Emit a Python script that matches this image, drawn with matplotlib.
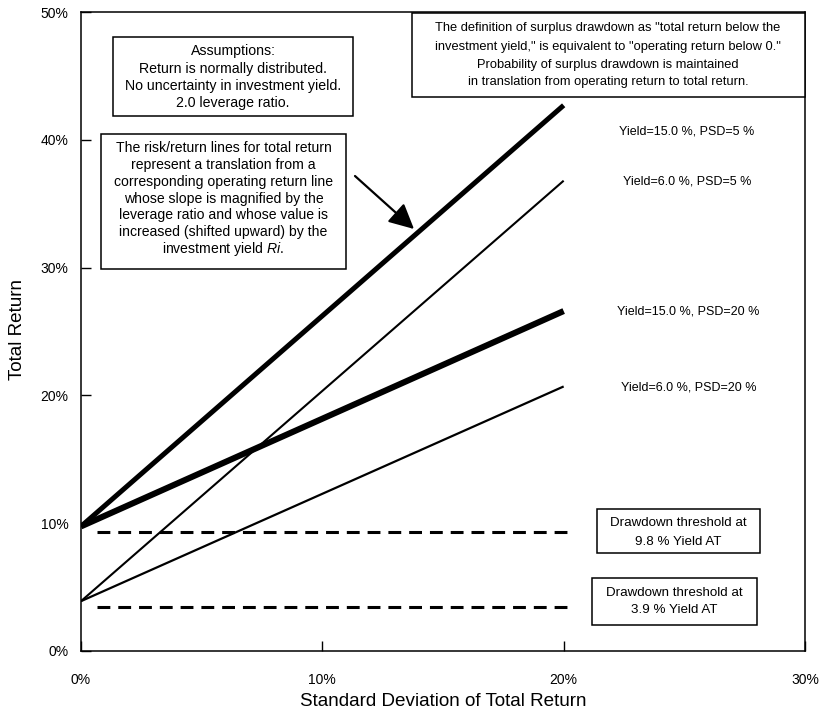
import matplotlib
matplotlib.use("Agg")
import matplotlib.pyplot as plt
from matplotlib.patches import Rectangle

# ---------------- data ----------------
sd_range = [0.0, 20.0]                       # standard deviation of total return (%)
series_labels = ["Yield=15.0 %, PSD=5 %", "Yield=6.0 %, PSD=5 %",
                 "Yield=15.0 %, PSD=20 %", "Yield=6.0 %, PSD=20 %"]
return_at_zero = [9.75, 3.9, 9.75, 3.9]       # total return at SD = 0 (%)
return_at_20 = [42.7, 36.8, 26.6, 20.7]       # total return at SD = 20 % (%)
series_widths = [3.6, 1.5, 4.4, 1.6]

threshold_levels = [9.3, 3.45]                # dashed drawdown thresholds (%)
threshold_range = [0.65, 20.4]
threshold_texts = ["Drawdown threshold at\n9.8 % Yield AT",
                   "Drawdown threshold at\n3.9 % Yield AT"]

x_ticks = [0, 10, 20, 30]
y_ticks = [0, 10, 20, 30, 40, 50]

# ---------------- style ----------------
plt.rcParams['font.family'] = ['Liberation Sans', 'DejaVu Sans']
plt.rcParams['mathtext.fontset'] = 'custom'
plt.rcParams['mathtext.rm'] = 'Liberation Sans'
plt.rcParams['mathtext.it'] = 'Liberation Sans:italic'

W, H = 821, 716
fig = plt.figure(figsize=(W / 100, H / 100), dpi=100)
fig.patch.set_facecolor('white')

def fx(px):
    return px / W

def fy(py):
    return 1 - py / H

L, R, T, B = 81, 805, 12, 651
ax = fig.add_axes([fx(L), fy(B), fx(R) - fx(L), fy(T) - fy(B)])
ax.set_xlim(0, 30)
ax.set_ylim(0, 50)

for lbl, y0, y1, lw in zip(series_labels, return_at_zero, return_at_20, series_widths):
    ax.plot(sd_range, [y0, y1], color='black', lw=lw, solid_capstyle='butt', zorder=3)

for lvl in threshold_levels:
    ax.plot(threshold_range, [lvl, lvl], color='black', lw=2.2,
            linestyle=(0, (4.2, 2.6)), zorder=3)

ax.set_xticks(x_ticks)
ax.set_yticks(y_ticks)
ax.set_xticklabels([f"{v}%" for v in x_ticks], fontsize=10)
ax.set_yticklabels([f"{v}%" for v in y_ticks], fontsize=10)
ax.tick_params(axis='both', direction='in', length=7.5, width=1.0, color='black')
ax.tick_params(axis='x', pad=16)
ax.tick_params(axis='y', pad=9)
for s in ax.spines.values():
    s.set_linewidth(1.1)
    s.set_color('black')

fig.text(fx(443), fy(702), "Standard Deviation of Total Return", fontsize=13.6,
         ha='center', va='center')
fig.text(fx(17), fy(330), "Total Return", fontsize=13.6, rotation=90,
         ha='center', va='center')

# ---------------- series labels ----------------
label_pos = [(687, 131), (687, 182), (688, 312), (689, 387)]
for lbl, (px, py) in zip(series_labels, label_pos):
    fig.text(fx(px), fy(py), lbl, fontsize=9.0, ha='center', va='center')

# ---------------- boxes ----------------
def box(x0, y0, x1, y1, lines, cx, ys, fs=8.8):
    fig.patches.append(Rectangle((fx(x0), fy(y1)), fx(x1) - fx(x0), fy(y0) - fy(y1),
                                 transform=fig.transFigure, facecolor='white',
                                 edgecolor='black', lw=1.1, zorder=5))
    for t, y in zip(lines, ys):
        fig.text(fx(cx), fy(y), t, fontsize=fs, ha='center', va='center', zorder=6)

box(113, 37, 353, 116,
    ["Assumptions:", "Return is normally distributed.",
     "No uncertainty in investment yield.", "2.0 leverage ratio."],
    233, [51, 68.5, 86, 103], fs=10.2)

box(101, 134, 346, 269,
    ["The risk/return lines for total return", "represent a translation from a",
     "corresponding operating return line", "whose slope is magnified by the",
     "leverage ratio and whose value is", "increased (shifted upward) by the",
     r"investment yield $\it{Ri}$."],
    223.5, [148, 165, 182, 198.5, 215, 232, 249], fs=10.1)

box(412, 13, 805, 97,
    ['The definition of surplus drawdown as "total return below the',
     'investment yield," is equivalent to "operating return below 0."',
     "Probability of surplus drawdown is maintained",
     "in translation from operating return to total return."],
    608, [28, 47, 65, 82], fs=9.3)

tb_rects = [(597, 509, 760, 553), (592, 578, 757, 625)]
tb_ys = [[523, 542], [593, 610]]
for txt, (x0, y0, x1, y1), ys in zip(threshold_texts, tb_rects, tb_ys):
    box(x0, y0, x1, y1, txt.split("\n"), (x0 + x1) / 2, ys, fs=9.6)

# ---------------- arrow ----------------
fig.add_artist(matplotlib.patches.FancyArrowPatch(
    (fx(355), fy(176)), (fx(414), fy(229)), transform=fig.transFigure,
    arrowstyle='-|>', mutation_scale=38, lw=1.6, color='black', zorder=6,
    shrinkA=0, shrinkB=0))

fig.savefig("out.png", dpi=100, facecolor='white')
